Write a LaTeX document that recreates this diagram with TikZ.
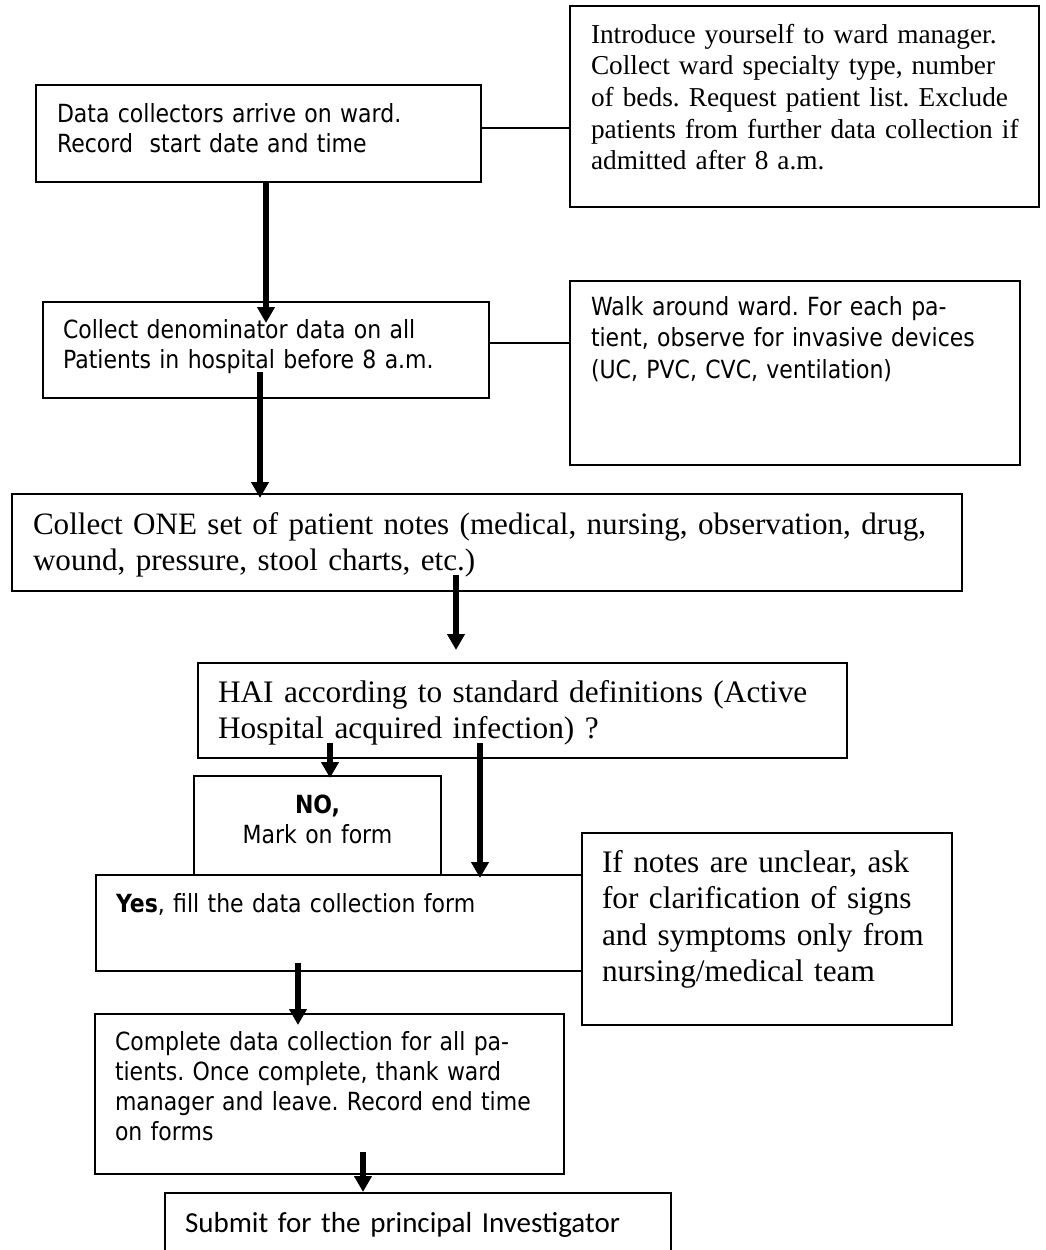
\documentclass[tikz,border=0pt]{standalone}
\usepackage{fontspec}
\newfontfamily\wardsans[FakeStretch=0.88]{DejaVu Sans}
\newfontfamily\wardserif{Liberation Serif}
\newfontfamily\wardcal{Carlito}
\usetikzlibrary{arrows.meta,calc}
\frenchspacing
\hyphenpenalty=10000
\exhyphenpenalty=10000

\begin{document}
\begin{tikzpicture}[x=1pt,y=-1pt,>={Triangle[width=17pt,length=16pt]},
        wardbox/.style={draw,line width=2pt,anchor=north west,align=left,inner ysep=0pt,outer sep=0pt},
        sanstext/.style={font={\wardsans\fontsize{25}{30}\selectfont}},
        serifbig/.style={font={\wardserif\fontsize{31.3}{36.6}\selectfont}},
        flow/.style={->,line width=6pt},
        link/.style={line width=2pt}]
        \useasboundingbox (0,0) rectangle (1046,1250);
        \node[wardbox,sanstext,inner xsep=21pt,text width=403pt,text height=37pt,text depth=60pt] (arrive) at (36,85)
            {Data collectors arrive on ward.\\Record\ \ start date and time};
        \node[wardbox,font={\wardserif\fontsize{27.3}{31.7}\selectfont},inner xsep=19pt,text width=431pt,text height=37pt,text depth=164pt] (intro) at (570,6)
            {\hspace*{2pt}Introduce yourself to ward manager.\\\hspace*{2pt}Collect ward specialty type, number\\\hspace*{2pt}of beds. Request patient list. Exclude\\\hspace*{2pt}patients from further data collection if\\\hspace*{2pt}admitted after 8 a.m.};
        \node[wardbox,sanstext,inner xsep=20pt,text width=406pt,text height=36pt,text depth=60pt] (denom) at (43,302)
            {Collect denominator data on all\\Patients in hospital before 8 a.m.};
        \node[wardbox,font={\wardsans\fontsize{25}{31.5}\selectfont},inner xsep=21pt,text width=408pt,text height=34pt,text depth=150pt] (walk) at (570,281)
            {Walk around ward. For each pa-\\tient, observe for invasive devices\\(UC, PVC, CVC, ventilation)};
        \node[wardbox,font={\wardserif\fontsize{31.1}{36}\selectfont},inner xsep=21pt,text width=908pt,text height=40pt,text depth=57pt] (notes) at (12,494)
            {Collect ONE set of patient notes (medical, nursing, observation, drug,\\wound, pressure, stool charts, etc.)};
        \node[wardbox,serifbig,inner xsep=20pt,text width=609pt,text height=39pt,text depth=56pt] (hai) at (198,663)
            {HAI according to standard definitions (Active\\Hospital acquired infection) ?};
        \node[wardbox,sanstext,align=center,inner xsep=10pt,text width=227pt,text height=37pt,text depth=62pt] (no) at (194,776)
            {\textbf{NO,}\\Mark on form};
        \node[wardbox,sanstext,inner xsep=20pt,text width=446pt,text height=37pt,text depth=59pt] (yes) at (96,875)
            {\textbf{Yes}, fill the data collection form};
        \node[wardbox,serifbig,inner xsep=20pt,text width=330pt,text height=39pt,text depth=153pt] (unclear) at (582,833)
            {If notes are unclear, ask\\for clarification of signs\\and symptoms only from\\nursing/medical team};
        \node[wardbox,sanstext,inner xsep=20pt,text width=429pt,text height=36pt,text depth=124pt] (complete) at (95,1014)
            {Complete data collection for all pa-\\tients. Once complete, thank ward\\manager and leave. Record end time\\on forms};
        \node[wardbox,font={\wardcal\fontsize{29}{35}\selectfont},inner xsep=20pt,text width=466pt,text height=39pt,text depth=30pt] (submit) at (165,1193)
            {Submit for the principal Investigator};
        \draw[link] ($(arrive.east)+(0,-5.5)$) -- ($(arrive.east -| intro.west)+(0,-5.5)$);
        \draw[link] ($(denom.east)+(0,-7)$) -- ($(denom.east -| walk.west)+(0,-7)$);
        \draw[flow] ($(arrive.south)+(7.5,0)$) -- ($(arrive.south |- denom.north)+(7.5,21)$);
        \draw[flow] ($(denom.south)+(-6,-26)$) -- ($(denom.south |- notes.north)+(-6,4)$);
        \draw[flow] ($(notes.south)+(-31,-16)$) -- ($(notes.south |- hai.north)+(-31,-13)$);
        \draw[flow] ($(no.north |- hai.south)+(12.5,-15)$) -- ($(no.north)+(12.5,2)$);
        \draw[flow] ($(hai.south)+(-42.5,-15)$) -- ($(hai.south |- yes.north)+(-42.5,3)$);
        \draw[flow] ($(yes.south)+(-41,-8)$) -- ($(yes.south |- complete.north)+(-41,11)$);
        \draw[flow] ($(complete.south)+(33.5,-22)$) -- ($(complete.south |- submit.north)+(33.5,-1)$);
\end{tikzpicture}
\end{document}
